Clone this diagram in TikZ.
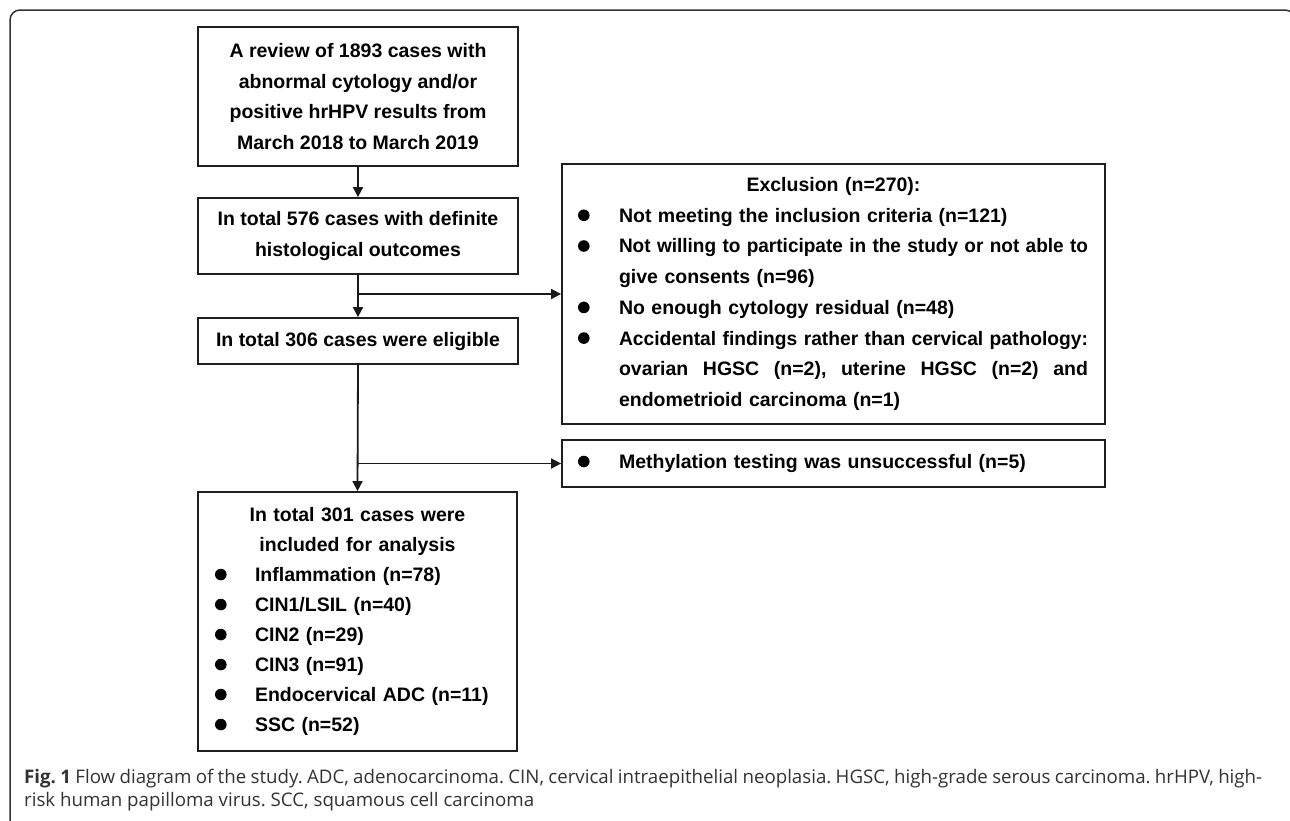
\documentclass[tikz,border=0pt]{standalone}
\usepackage{fontspec}
\usepackage{graphicx}
\setmainfont{Liberation Sans}
\newfontfamily\capfont{Open Sans}
\usetikzlibrary{arrows.meta}
\frenchspacing
\newcommand\bulmark[1]{\makebox[#1][l]{\tikz[baseline=-7pt]\fill (5.8pt,0pt) circle (5.8pt);}}
\newcommand\fitline[1]{\resizebox{469pt}{\height}{#1}}
\newcommand\justline[1]{\makebox[469pt][s]{\spaceskip=0pt\xspaceskip=0pt #1}}
\tikzset{
  boxst/.style={draw=black!88, line width=1.8pt, inner sep=0pt,
    font=\bfseries\fontsize{19.5}{30.5}\selectfont},
  arr/.style={draw=black!90, line width=1.8pt, -{Triangle[length=10pt,width=10pt]}},
  capst/.style={inner sep=0pt, anchor=base west, text=black!80,
    font=\capfont\fontsize{18.7}{23}\selectfont}
}
\begin{document}
\begin{tikzpicture}[x=1pt,y=-1pt]
\useasboundingbox (0,0) rectangle (1290,820);
\fill[white] (0,0) rectangle (1290,820);
\draw[black!80, line width=1.5pt, rounded corners=10pt] (10,840) -- (10,10) -- (1295,10) -- (1295,840);

\node[boxst, minimum width=320pt, minimum height=139pt, align=center] (b1) at (358,96.5)
  {A review of 1893 cases with\\abnormal cytology and/or\\positive hrHPV results from\\March 2018 to March 2019};
\node[boxst, minimum width=320pt, minimum height=76pt, align=center] (b2) at (358,236)
  {In total 576 cases with definite\\histological outcomes};
\node[boxst, minimum width=320pt, minimum height=46pt, align=center] (b3) at (358,341)
  {In total 306 cases were eligible};
\node[boxst, minimum width=319pt, minimum height=259pt, inner xsep=17pt, text width=285pt,
  align=left, font=\bfseries\fontsize{19.5}{30}\selectfont] (b4) at (357.5,621.5)
  {\makebox[285pt]{In total 301 cases were}\\
   \makebox[285pt]{included for analysis}\\
   \bulmark{40pt}Inflammation (n=78)\\
   \bulmark{40pt}CIN1/LSIL (n=40)\\
   \bulmark{40pt}CIN2 (n=29)\\
   \bulmark{40pt}CIN3 (n=91)\\
   \bulmark{40pt}Endocervical ADC (n=11)\\
   \bulmark{40pt}SSC (n=52)};

\node[boxst, minimum width=543pt, minimum height=260pt, inner xsep=16pt, text width=511pt,
  align=left, font=\bfseries\fontsize{19.5}{30.7}\selectfont] (ex) at (833.5,294)
  {\makebox[511pt]{Exclusion (n=270):}\\
   \bulmark{41pt}Not meeting the inclusion criteria (n=121)\\
   \bulmark{41pt}\fitline{Not willing to participate in the study or not able to}\\
   \hspace*{41pt}give consents (n=96)\\
   \bulmark{41pt}No enough cytology residual (n=48)\\
   \bulmark{41pt}\fitline{Accidental findings rather than cervical pathology:}\\
   \hspace*{41pt}\justline{ovarian HGSC (n=2), uterine HGSC (n=2) and}\\
   \hspace*{41pt}endometrioid carcinoma (n=1)};
\node[boxst, minimum width=543pt, minimum height=47pt, inner xsep=16pt, text width=511pt,
  align=left] (me) at (833.5,463.5)
  {\bulmark{41pt}Methylation testing was unsuccessful (n=5)};

\draw[arr] (b1.south) -- (b2.north);
\draw[arr] (b2.south) -- (b3.north);
\draw[arr] (b2.south |- ex.west) -- (ex.west);
\draw[arr] (b3.south) -- (b4.north);
\draw[arr] (b3.south |- me.west) -- (me.west);

\node[capst] (cap1) at (24,783)
  {\makebox[1238pt][s]{\textbf{Fig. 1} Flow diagram of the study. ADC, adenocarcinoma. CIN, cervical intraepithelial neoplasia. HGSC, high-grade serous carcinoma. hrHPV, high-}};
\node[capst] (cap2) at (24,806)
  {risk human papilloma virus. SCC, squamous cell carcinoma};
\end{tikzpicture}
\end{document}
